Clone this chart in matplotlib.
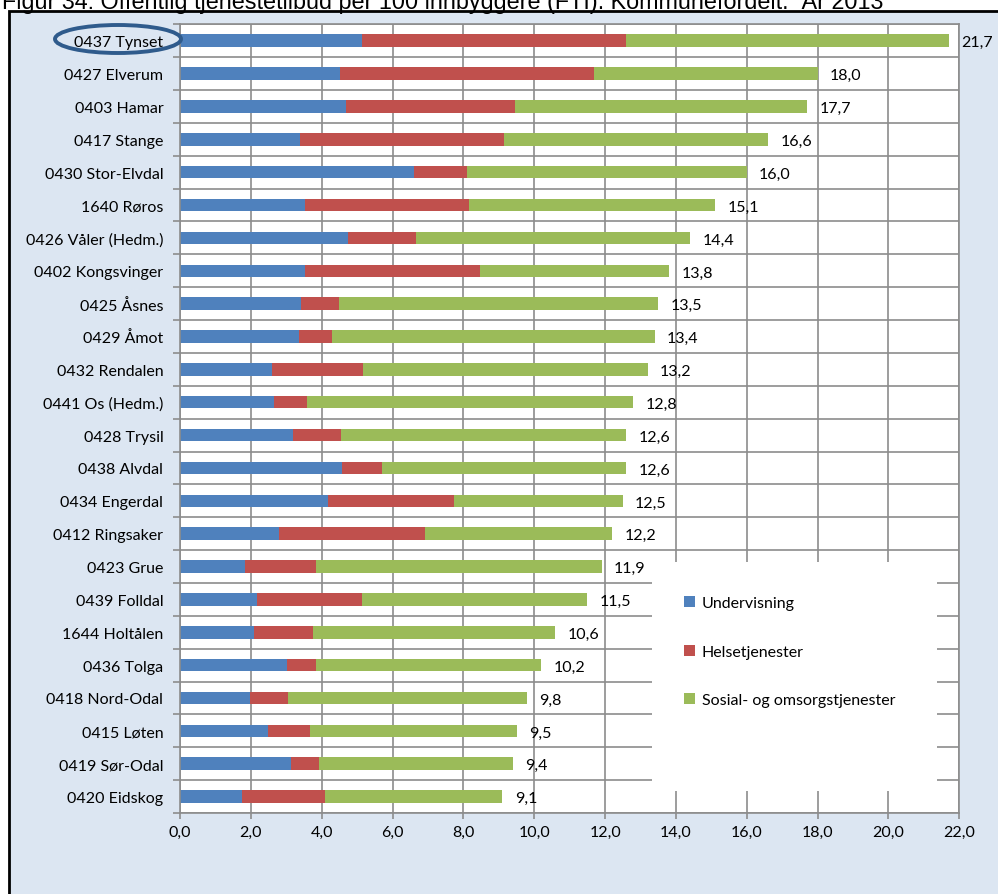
import numpy as np
import matplotlib.pyplot as plt
from matplotlib.patches import Rectangle, Ellipse, Patch
from matplotlib.ticker import MultipleLocator, FuncFormatter

kommuner = ['0437 Tynset', '0427 Elverum', '0403 Hamar', '0417 Stange', '0430 Stor-Elvdal',
            '1640 Røros', '0426 Våler (Hedm.)', '0402 Kongsvinger', '0425 Åsnes', '0429 Åmot',
            '0432 Rendalen', '0441 Os (Hedm.)', '0428 Trysil', '0438 Alvdal', '0434 Engerdal',
            '0412 Ringsaker', '0423 Grue', '0439 Folldal', '1644 Holtålen', '0436 Tolga',
            '0418 Nord-Odal', '0415 Løten', '0419 Sør-Odal', '0420 Eidskog']
undervisning = [5.14, 4.53, 4.68, 3.40, 6.61, 3.54, 4.75, 3.54, 3.41, 3.36, 2.59, 2.65,
                3.19, 4.58, 4.19, 2.80, 1.84, 2.18, 2.10, 3.01, 1.97, 2.48, 3.14, 1.75]
helse = [7.45, 7.16, 4.79, 5.74, 1.49, 4.61, 1.90, 4.94, 1.08, 0.92, 2.59, 0.93,
         1.35, 1.12, 3.55, 4.13, 2.00, 2.96, 1.65, 0.82, 1.08, 1.18, 0.78, 2.34]
totalt = [21.7, 18.0, 17.7, 16.6, 16.0, 15.1, 14.4, 13.8, 13.5, 13.4, 13.2, 12.8,
          12.6, 12.6, 12.5, 12.2, 11.9, 11.5, 10.6, 10.2, 9.8, 9.5, 9.4, 9.1]
serier = ['Undervisning', 'Helsetjenester', 'Sosial- og omsorgstjenester']
farger = ['#4f81bd', '#c0504d', '#9bbb59']

undervisning = np.array(undervisning)
helse = np.array(helse)
totalt = np.array(totalt)
sosial = totalt - undervisning - helse

plt.rcParams['font.family'] = ['Lato', 'DejaVu Sans']
grid_farge = '#8c8c8c'

W, H = 998, 895
fig = plt.figure(figsize=(W / 100, H / 100), dpi=100)
fig.patch.set_facecolor('white')

# bakgrunnsboks
fig.add_artist(Rectangle((9 / W, -0.01), 1.0, 1 - 12 / H + 0.01, transform=fig.transFigure,
                         facecolor='#dce6f2', edgecolor='black', linewidth=2, zorder=-1))

fig.text(2 / W, 1 - 9 / H,
         'Figur 34: Offentlig tjenestetilbud per 100 innbyggere (FTI). Kommunefordelt.  År 2013',
         fontsize=16.8, family='Liberation Sans', va='baseline', ha='left')

ax = fig.add_axes([180 / W, 81 / H, 779.3 / W, 788.7 / H])
ax.set_facecolor('white')

y = np.arange(len(kommuner))
h = 0.38
ax.barh(y, undervisning, height=h, color=farger[0], label=serier[0])
ax.barh(y, helse, left=undervisning, height=h, color=farger[1], label=serier[1])
ax.barh(y, sosial, left=undervisning + helse, height=h, color=farger[2], label=serier[2])

for i, t in enumerate(totalt):
    ax.text(t + 0.35, i + 0.05, f'{t:.1f}'.replace('.', ','), va='center', ha='left',
            fontsize=11.5, clip_on=False)

ax.set_xlim(0, 22)
ax.set_ylim(len(kommuner) - 0.5, -0.5)
ax.xaxis.set_major_locator(MultipleLocator(2))
ax.xaxis.set_major_formatter(FuncFormatter(lambda v, p: f'{v:.1f}'.replace('.', ',')))
ax.set_yticks(y)
ax.set_yticklabels(kommuner)
ax.set_yticks(np.arange(len(kommuner) + 1) - 0.5, minor=True)

ax.tick_params(axis='y', which='major', length=0, pad=12, labelsize=11.5)
ax.tick_params(axis='y', which='minor', length=5, width=1.2, color=grid_farge)
ax.tick_params(axis='x', which='major', length=4.5, width=1.2, color=grid_farge,
               labelsize=11.5, pad=4)

ax.set_axisbelow(True)
ax.grid(True, axis='x', which='major', color=grid_farge, linewidth=1.2)
ax.grid(True, axis='y', which='minor', color=grid_farge, linewidth=1.2)
for s in ax.spines.values():
    s.set_color(grid_farge)
    s.set_linewidth(1.2)

# hvit legendeboks
fig.add_artist(Rectangle((652 / W, 1 - 792 / H), 285 / W, 229 / H, transform=fig.transFigure,
                         facecolor='white', edgecolor='none', zorder=1))
handles = [Patch(facecolor=c, edgecolor='none', label=l) for c, l in zip(farger, serier)]
fig.legend(handles=handles, loc='upper left', bbox_to_anchor=(684 / W, 1 - 597 / H),
           frameon=False, fontsize=11.5, handlelength=0.7, handleheight=0.7,
           handletextpad=0.4, labelspacing=2.15, borderpad=0, borderaxespad=0)

# markering av Tynset
fig.add_artist(Ellipse((118 / W, 1 - 40 / H), 126 / W, 28 / H, transform=fig.transFigure,
                       facecolor='none', edgecolor='#2f5b8c', linewidth=2.8, zorder=10))

fig.savefig('out.png', dpi=100)
